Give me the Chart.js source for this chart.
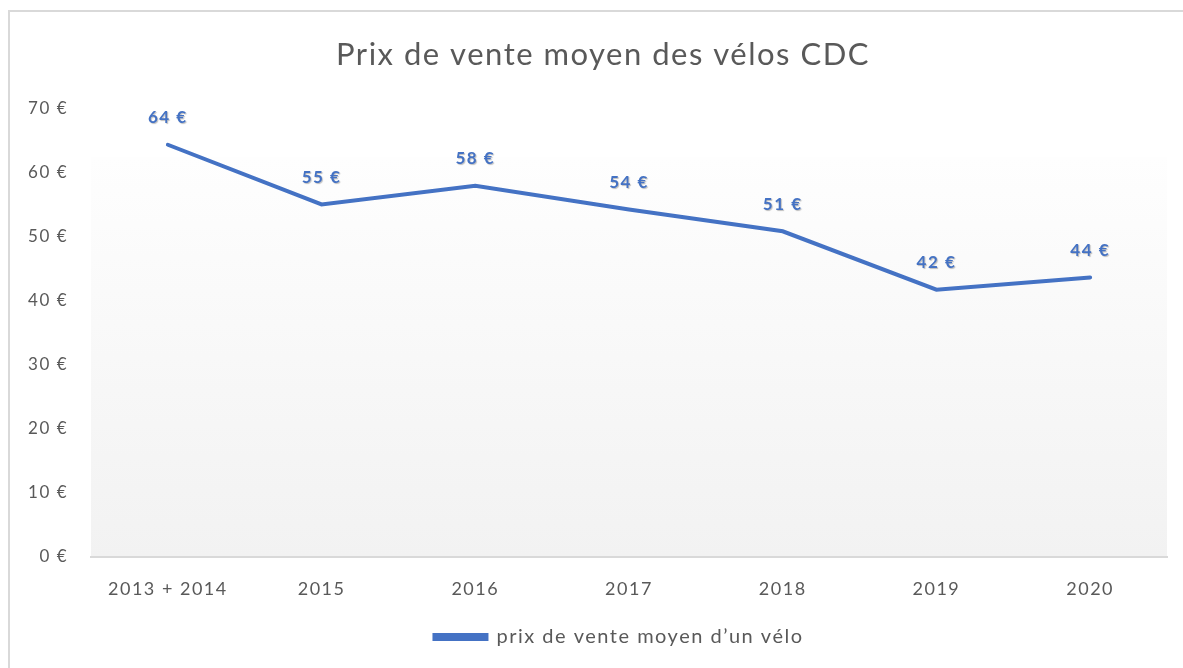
<!DOCTYPE html>
<html>
<head>
<meta charset="utf-8">
<script src="https://cdn.jsdelivr.net/npm/chart.js@4/dist/chart.umd.min.js"></script>
<style>
  body { margin: 0; background: #fff; overflow: hidden; }
  #wrap { position: absolute; left: 8px; top: 10px; width: 1210px; height: 690px; border: 2px solid #d9d9d9; }
</style>
</head>
<body>
<div id="wrap"><canvas id="chart" width="1190" height="680"></canvas></div>
<script>
// Data
var years = ['2013 + 2014', '2015', '2016', '2017', '2018', '2019', '2020'];
var prixMoyen = [64.3, 55.0, 57.9, 54.2, 50.8, 41.7, 43.6];
var yTicks = [0, 10, 20, 30, 40, 50, 60, 70];

var blue = '#4472c4';
var grey = '#595959';
var font = 'Lato, "Open Sans", sans-serif';

// Calibri-like spacing on all canvas text
var spacing = {
    id: 'spacing',
    beforeLayout: function(chart) { chart.ctx.letterSpacing = '1.5px'; },
    beforeDraw: function(chart) { chart.ctx.letterSpacing = '1.5px'; }
};

// centre title and legend like the original (not on the chart area)
var recentre = {
    id: 'recentre',
    afterLayout: function(chart) {
        if (chart.titleBlock) {
            chart.titleBlock.left = -4;
            chart.titleBlock.right = chart.width;
        }
        if (chart.legend) {
            chart.legend.left = 28;
            chart.legend.right = chart.width;
        }
    }
};

// Plot area gradient (white to light grey)
var plotBackground = {
    id: 'plotBackground',
    beforeDraw: function(chart) {
        var a = chart.chartArea, ctx = chart.ctx;
        var top = a.top + 49;
        var g = ctx.createLinearGradient(0, top, 0, a.bottom);
        g.addColorStop(0, '#fefefe');
        g.addColorStop(1, '#f2f2f2');
        ctx.save();
        ctx.fillStyle = g;
        ctx.fillRect(a.left, top, a.right - a.left, a.bottom - top);
        ctx.restore();
    }
};

// Value labels above each point
var valueLabels = {
    id: 'valueLabels',
    afterDatasetsDraw: function(chart) {
        var ctx = chart.ctx;
        var meta = chart.getDatasetMeta(0);
        ctx.save();
        ctx.font = 'bold 17px ' + font;
        ctx.fillStyle = blue;
        ctx.textAlign = 'center';
        ctx.textBaseline = 'middle';
        ctx.shadowColor = 'rgba(0,0,0,0.25)';
        ctx.shadowOffsetX = 1;
        ctx.shadowOffsetY = 1;
        ctx.shadowBlur = 1;
        meta.data.forEach(function(pt, i) {
            ctx.fillText(Math.round(prixMoyen[i]) + ' €', pt.x, pt.y - 27);
        });
        ctx.restore();
    }
};

var ctx = document.getElementById('chart').getContext('2d');
var chart = new Chart(ctx, {
    type: 'line',
    data: {
        labels: years,
        datasets: [{
            label: 'prix de vente moyen d\u2019un vélo',
            data: prixMoyen,
            borderColor: blue,
            backgroundColor: blue,
            borderWidth: 4,
            pointRadius: 0,
            tension: 0,
            borderCapStyle: 'round'
        }]
    },
    options: {
        responsive: false,
        animation: false,
        layout: { padding: { left: 0, right: 33, top: 0, bottom: 35 } },
        plugins: {
            title: {
                display: true,
                text: 'Prix de vente moyen des vélos CDC',
                color: grey,
                font: { family: font, size: 31, weight: 'normal' },
                padding: { top: 24, bottom: 35 }
            },
            legend: {
                position: 'bottom',
                labels: {
                    color: grey,
                    font: { family: font, size: 20 },
                    boxWidth: 52,
                    boxHeight: 4,
                    padding: 10
                }
            },
            tooltip: { enabled: false }
        },
        scales: {
            x: {
                offset: true,
                grid: { display: false, drawTicks: false },
                border: { color: '#d9d9d9', width: 2 },
                ticks: { color: grey, font: { family: font, size: 18 }, padding: 21 },
                afterFit: function(s) { s.height = 60; }
            },
            y: {
                min: 0,
                max: 70,
                afterBuildTicks: function(s) { s.ticks = yTicks.map(function(v) { return { value: v }; }); },
                grid: { display: false, drawTicks: false },
                border: { display: false },
                ticks: {
                    color: grey,
                    font: { family: font, size: 17 },
                    padding: 23,
                    callback: function(v) { return v + ' €'; }
                },
                afterFit: function(s) { s.width = 81; }
            }
        }
    },
    plugins: [spacing, recentre, plotBackground, valueLabels]
});
</script>
</body>
</html>
